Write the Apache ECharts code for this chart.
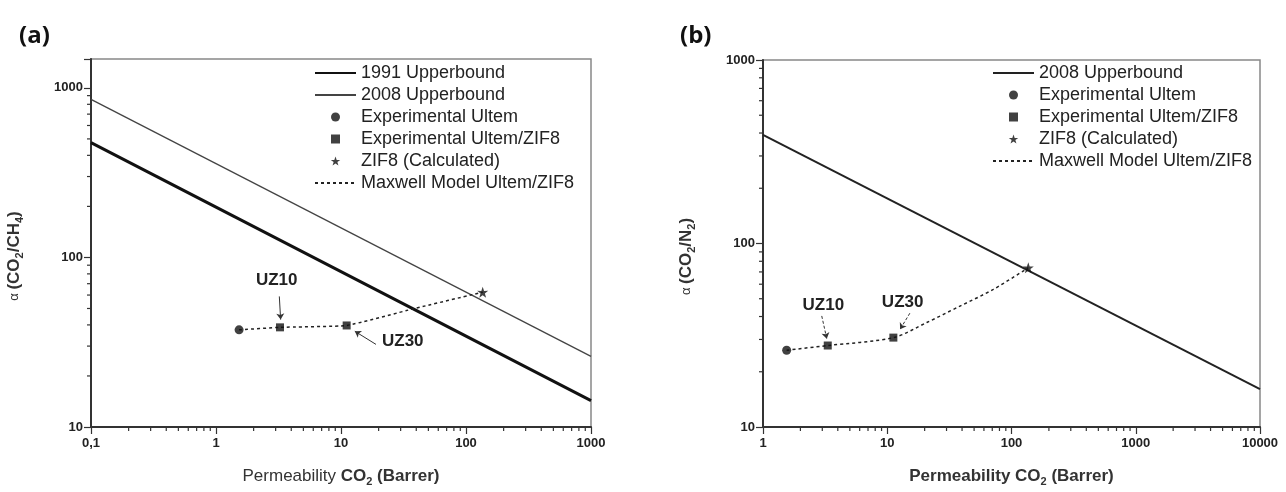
<!DOCTYPE html>
<html>
<head>
<meta charset="utf-8">
<title>Upper bound plots</title>
<script src="https://cdn.jsdelivr.net/npm/echarts@6/dist/echarts.min.js"></script>
<style>
  html, body { margin: 0; padding: 0; background: #fff; }
  #chart { width: 1286px; height: 492px; }
</style>
</head>
<body>
<div id="chart"></div>
<script>
// (a) CO2/CH4 data, [permeability, selectivity]
const boundA1991 = [[0.1, 475], [1000, 14.3]]
const boundA2008 = [[0.1, 855], [1000, 26.1]]
const ultemA = [[1.53, 37.4]]
const ultemZifA = [[3.25, 38.7], [11.1, 39.7]]
const zif8A = [[136, 62.4]]
const maxwellA = [[1.53, 37.4], [3.25, 38.7], [11.1, 39.7], [38, 49.8], [136, 62.4]]

// (b) CO2/N2 data
const boundB2008 = [[1, 391], [10000, 16.1]]
const ultemB = [[1.55, 26.2]]
const ultemZifB = [[3.32, 27.8], [11.2, 30.7]]
const zif8B = [[136.5, 73.8]]
const maxwellB = [[1.55, 26.2], [3.32, 27.8], [11.2, 30.7], [20.8, 37.1], [38.5, 45.6], [71.4, 56.2], [136.5, 73.8]]

// annotations (data coords)
const labelsA = [{ name: 'UZ10', coord: [3.06, 73] }, { name: 'UZ30', coord: [31.2, 32.1] }]
const arrowsA = [[[3.21, 58.9], [3.29, 43.0]], [[19.05, 30.7], [12.9, 36.7]]]
const labelsB = [{ name: 'UZ10', coord: [3.06, 46.0] }, { name: 'UZ30', coord: [13.3, 48.0] }]
const arrowsB = [[[2.97, 40.3], [3.26, 30.3]], [[15.2, 41.7], [12.7, 34.1]]]

// axis ranges / tick labels
const xRangeA = [0.1, 1000]
const yRangeA = [10, 1480]
const xRangeB = [1, 10000]
const yRangeB = [10, 1000]

const legendA = ['1991 Upperbound', '2008 Upperbound', 'Experimental Ultem', 'Experimental Ultem/ZIF8', 'ZIF8 (Calculated)', 'Maxwell Model Ultem/ZIF8']
const legendB = ['2008 Upperbound [b]', 'Experimental Ultem [b]', 'Experimental Ultem/ZIF8 [b]', 'ZIF8 (Calculated) [b]', 'Maxwell Model Ultem/ZIF8 [b]']

const FONT = 'Liberation Sans, Arial, sans-serif'
const STAR = 'path://M50,0 L61.8,35.1 L97.6,34.5 L68.8,56.2 L79.4,90.5 L50,70 L20.6,90.5 L31.2,56.2 L2.4,34.5 L38.2,35.1 Z'
const SQUARE = 'path://M0,0 L10,0 L10,10 L0,10 Z'

// minor ticks 2..9 of every decade inside a range
function minorTicks (range) {
  const out = []
  for (let d = Math.floor(Math.log10(range[0])); d < Math.ceil(Math.log10(range[1])); d++) {
    for (let k = 2; k <= 9; k++) {
      const v = k * Math.pow(10, d)
      if (v > range[0] && v < range[1]) out.push(v)
    }
  }
  return out
}

function isDecade (v) {
  const l = Math.log10(v)
  return Math.abs(l - Math.round(l)) < 1e-6
}

const nameRich = {
  n: { fontSize: 17, color: '#333', fontFamily: FONT, lineHeight: 22 },
  a: { fontSize: 13, color: '#333', fontFamily: FONT, lineHeight: 22 },
  b: { fontSize: 17, fontWeight: 'bold', color: '#333', fontFamily: FONT, lineHeight: 22 },
  s: { fontSize: 11, fontWeight: 'bold', color: '#333', fontFamily: FONT, lineHeight: 11, padding: [11, 0, 0, 0] }
}

function axis (gridIndex, range, name, nameGap, isY) {
  return {
    type: 'log',
    logBase: 10,
    gridIndex: gridIndex,
    min: range[0],
    max: range[1],
    name: name,
    nameLocation: 'middle',
    nameGap: nameGap,
    nameTextStyle: { rich: nameRich, padding: isY ? [0, 26, 0, 0] : 0 },
    axisLine: { show: true, onZero: false, lineStyle: { color: '#333', width: 2 } },
    axisTick: { show: true, length: 7, lineStyle: { color: '#333', width: 1.2 } },
    axisLabel: {
      fontFamily: FONT,
      fontWeight: 'bold',
      fontSize: 13,
      color: '#222',
      margin: isY ? 8 : 10,
      formatter: v => isDecade(v) ? String(+v.toPrecision(6)).replace('.', ',') : ''
    },
    splitLine: { show: false }
  }
}

// custom series that draws the small minor ticks through the axes
function minorTickSeries (idx, xRange, yRange) {
  const data = minorTicks(xRange).map(v => [v, yRange[0], 0])
    .concat(minorTicks(yRange).map(v => [xRange[0], v, 1]))
  return {
    type: 'custom',
    xAxisIndex: idx,
    yAxisIndex: idx,
    silent: true,
    clip: false,
    z: 5,
    data: data,
    renderItem: (params, api) => {
      const p = api.coord([api.value(0), api.value(1)])
      const shape = api.value(2) === 1
        ? { x1: p[0] - 4, y1: p[1], x2: p[0], y2: p[1] }
        : { x1: p[0], y1: p[1], x2: p[0], y2: p[1] + 4 }
      return { type: 'line', shape: shape, style: { stroke: '#333', lineWidth: 1.2 } }
    }
  }
}

function annotations (labels, arrows, dashed) {
  return {
    markPoint: {
      symbol: 'circle',
      symbolSize: 1,
      silent: true,
      itemStyle: { color: 'transparent' },
      label: { show: true, position: 'inside', formatter: '{b}', fontFamily: FONT, fontWeight: 'bold', fontSize: 17, color: '#222' },
      data: labels
    },
    markLine: {
      silent: true,
      symbol: ['none', 'arrow'],
      symbolSize: 6,
      label: { show: false },
      lineStyle: { color: '#333', width: 1, type: dashed ? [3, 2] : 'solid' },
      data: arrows.map(a => [{ coord: a[0] }, { coord: a[1] }])
    }
  }
}

function panelSeries (idx, names, d, lines) {
  const list = lines.map(l => ({
    name: l.name, type: 'line', xAxisIndex: idx, yAxisIndex: idx, data: l.data,
    symbol: 'none', z: 2, lineStyle: { color: l.color, width: l.width }, itemStyle: { color: l.color }
  }))
  list.push(
    { name: names[0], type: 'scatter', xAxisIndex: idx, yAxisIndex: idx, data: d.ultem, symbol: 'circle', symbolSize: 9, z: 4, itemStyle: { color: '#111' } },
    { name: names[1], type: 'scatter', xAxisIndex: idx, yAxisIndex: idx, data: d.ultemZif, symbol: SQUARE, symbolSize: 8, z: 4, itemStyle: { color: '#111' } },
    { name: names[2], type: 'scatter', xAxisIndex: idx, yAxisIndex: idx, data: d.zif8, symbol: STAR, symbolSize: 11, z: 4, itemStyle: { color: '#111' } },
    Object.assign({
      name: names[3], type: 'line', xAxisIndex: idx, yAxisIndex: idx, data: d.maxwell, smooth: d.smooth,
      symbol: 'none', z: 3, lineStyle: { color: '#222', width: 1.5, type: [3, 3] }, itemStyle: { color: '#222' }
    }, annotations(d.labels, d.arrows, d.dashedArrows)),
    minorTickSeries(idx, d.xRange, d.yRange)
  )
  return list
}

// line entries in the legend: hide the dot ECharts puts on the line icon
function legendData (names, lineNames) {
  return names.map(n => lineNames.indexOf(n) >= 0
    ? { name: n, itemStyle: { opacity: 0 } }
    : { name: n })
}

const legendStyle = {
  orient: 'vertical',
  top: 57,
  itemWidth: 41,
  itemHeight: 9,
  itemGap: 0,
  selectedMode: false,
  textStyle: { fontFamily: FONT, fontSize: 18, color: '#222', lineHeight: 22 },
  formatter: n => n.replace(' [b]', '')
}

const chart = echarts.init(document.getElementById('chart'))
const option = {
  animation: false,
  backgroundColor: '#fff',
  title: [
    { text: '(a)', left: 14, top: 19, textStyle: { fontFamily: 'Open Sans', fontWeight: 'bold', fontSize: 24, color: '#111' } },
    { text: '(b)', left: 675, top: 19, textStyle: { fontFamily: 'Open Sans', fontWeight: 'bold', fontSize: 24, color: '#111' } }
  ],
  legend: [
    Object.assign({ left: 309, data: legendData(legendA, [legendA[0], legendA[1], legendA[5]]) }, legendStyle),
    Object.assign({ left: 987, data: legendData(legendB, [legendB[0], legendB[4]]) }, legendStyle)
  ],
  grid: [
    { left: 91, top: 59, width: 500, height: 369, show: true, borderColor: '#888', borderWidth: 1.5 },
    { left: 763, top: 60, width: 497, height: 368, show: true, borderColor: '#888', borderWidth: 1.5 }
  ],
  xAxis: [
    axis(0, xRangeA, '{n|Permeability }{b|CO}{s|2}{b| (Barrer)}', 38, false),
    axis(1, xRangeB, '{b|Permeability CO}{s|2}{b| (Barrer)}', 38, false)
  ],
  yAxis: [
    axis(0, yRangeA, '{a|α }{b|(CO}{s|2}{b|/CH}{s|4}{b|)}', 66, true),
    axis(1, yRangeB, '{a|α }{b|(CO}{s|2}{b|/N}{s|2}{b|)}', 66, true)
  ],
  series: [].concat(
    panelSeries(0, legendA.slice(2), {
      ultem: ultemA, ultemZif: ultemZifA, zif8: zif8A, maxwell: maxwellA, smooth: 0.12,
      labels: labelsA, arrows: arrowsA, dashedArrows: false, xRange: xRangeA, yRange: yRangeA
    }, [
      { name: legendA[0], data: boundA1991, color: '#111', width: 3 },
      { name: legendA[1], data: boundA2008, color: '#444', width: 1.3 }
    ]),
    panelSeries(1, legendB.slice(1), {
      ultem: ultemB, ultemZif: ultemZifB, zif8: zif8B, maxwell: maxwellB, smooth: 0.3,
      labels: labelsB, arrows: arrowsB, dashedArrows: true, xRange: xRangeB, yRange: yRangeB
    }, [
      { name: legendB[0], data: boundB2008, color: '#222', width: 2 }
    ])
  )
}
chart.setOption(option)
</script>
</body>
</html>
